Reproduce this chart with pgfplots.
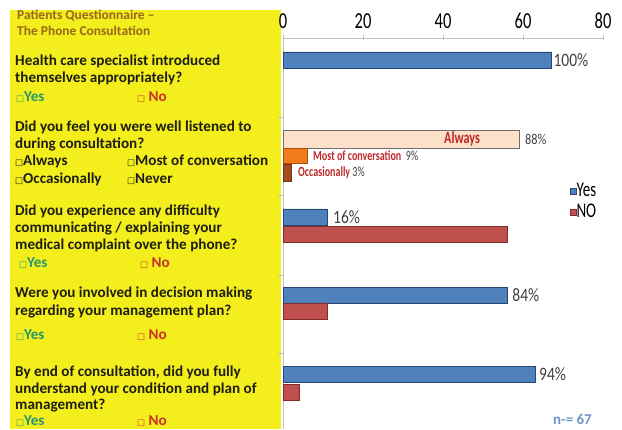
\documentclass[border=0pt]{standalone}
\usepackage{pgfplots}
\pgfplotsset{compat=1.18}
\usepackage{fontspec}
\setmainfont{Carlito}
\newfontfamily\narrow[FakeStretch=0.72]{Carlito}
\newfontfamily\semi[FakeStretch=0.82]{Carlito}
\newfontfamily\dejavu{DejaVu Sans}
\definecolor{ylw}{RGB}{243,238,28}
\definecolor{ttl}{RGB}{150,105,30}
\definecolor{qtxt}{RGB}{30,30,20}
\definecolor{yesc}{RGB}{40,150,110}
\definecolor{noc}{RGB}{200,50,40}
\definecolor{barblue}{RGB}{79,129,189}
\definecolor{barblueD}{RGB}{40,70,115}
\definecolor{barred}{RGB}{192,80,77}
\definecolor{barredD}{RGB}{130,45,42}
\definecolor{alw}{RGB}{252,224,200}
\definecolor{alwD}{RGB}{110,110,110}
\definecolor{most}{RGB}{240,125,25}
\definecolor{mostD}{RGB}{170,80,10}
\definecolor{occ}{RGB}{165,75,30}
\definecolor{lblc}{RGB}{64,64,64}
\definecolor{lblred}{RGB}{190,40,40}
\definecolor{nblue}{RGB}{110,150,200}
\newcommand\bx{{\dejavu\fontsize{8.5}{8.5}\selectfont\char"25A1}}
\begin{document}
\begin{tikzpicture}[x=1bp,y=1bp]
\useasboundingbox (0,0) rectangle (622,429);
\fill[ylw] (10,0) rectangle (281,419);
\begin{scope}[every node/.style={anchor=west,inner sep=0pt}]
\node[font=\bfseries\fontsize{13.5}{13.5}\selectfont,text=ttl] at (17,413) {Patients Questionnaire --};
\node[font=\bfseries\fontsize{13.5}{13.5}\selectfont,text=ttl] at (17,398) {The Phone Consultation};
\begin{scope}[every node/.append style={font=\bfseries\fontsize{15.2}{15.2}\selectfont,text=qtxt}]
\node at (15,368) {Health care specialist introduced};
\node at (15,351) {themselves appropriately?};
\node[text=yesc] at (16,332) {\bx Yes};
\node[text=noc] at (137,332) {\bx\ No};
\node at (15,302) {Did you feel you were well listened to};
\node at (15,285) {during consultation?};
\node at (15,268) {\bx Always};
\node at (127,268) {\bx Most of conversation};
\node at (15,250) {\bx Occasionally};
\node at (127,250) {\bx Never};
\node at (15,218) {Did you experience any difficulty};
\node at (15,201) {communicating / explaining your};
\node at (15,184) {medical complaint over the phone?};
\node[text=yesc] at (19,166) {\bx Yes};
\node[text=noc] at (140,166) {\bx\ No};
\node at (15,136) {Were you involved in decision making};
\node at (15,118) {regarding your management plan?};
\node[text=yesc] at (16,94) {\bx Yes};
\node[text=noc] at (137,94) {\bx\ No};
\node at (15,57) {By end of consultation, did you fully};
\node at (15,40) {understand your condition and plan of};
\node at (15,23) {management?};
\node[text=yesc] at (16,8) {\bx Yes};
\node[text=noc] at (137,8) {\bx\ No};
\end{scope}
\node[font=\bfseries\fontsize{15}{15}\selectfont,text=nblue] at (553,10) {n-= 67};
\end{scope}
\begin{axis}[
  at={(283bp,0bp)}, anchor=south west, scale only axis,
  width=320bp, height=391bp,
  xmin=0, xmax=80, ymin=0, ymax=391,
  axis x line*=top, axis y line*=left,
  axis line style={draw=gray!50,-},
  xtick={0,20,40,60,80},
  ytick={76,154,234,312}, yticklabels={},
  tick style={draw=gray!50},
  tick align=center, major tick length=5bp,
  /pgf/number format/assume math mode=true,
  xticklabel style={font=\narrow\fontsize{23}{23}\selectfont,text=black,yshift=3bp},
  xbar, bar shift=0pt,
  clip=false,
  legend style={at={(rel axis cs:0.895,0.63)},anchor=north west,draw=none,fill=none,
    font=\narrow\fontsize{21}{18}\selectfont, row sep=5bp, inner sep=0pt,
    nodes={inner sep=0.5bp}},
  legend cell align=left,
  legend image code/.code={\fill[#1] (0bp,-3bp) rectangle (6bp,3bp);},
]
\addplot[fill=barblue,draw=barblueD,bar width=16bp] coordinates {(67,369) (11,212) (56,134) (63,55)};
\addlegendentry{Yes}
\addplot[fill=barred,draw=barredD,bar width=16bp] coordinates {(56,195) (11,118) (4,37)};
\addlegendentry{NO}
\addplot[fill=alw,draw=alwD,bar width=18bp,forget plot] coordinates {(59,290)};
\addplot[fill=most,draw=mostD,bar width=15bp,forget plot] coordinates {(6,273)};
\addplot[fill=occ,draw=occ!70!black,bar width=17bp,forget plot] coordinates {(2,256)};
\begin{scope}[every node/.style={anchor=west,inner sep=0pt,text=lblc,font=\semi\fontsize{19}{19}\selectfont}]
\node at (axis cs:67.6,369) {100\%};
\node[font=\semi\fontsize{15}{15}\selectfont] at (axis cs:60.5,290) {88\%};
\node[anchor=center,text=lblred,font=\narrow\bfseries\fontsize{17}{17}\selectfont] at (axis cs:44.75,290) {Always};
\node[font=\narrow\fontsize{14}{14}\selectfont] at (axis cs:7.5,273) {\textcolor{lblred}{\bfseries Most of conversation}\ \ 9\%};
\node[font=\narrow\fontsize{14}{14}\selectfont] at (axis cs:3.75,256) {\textcolor{lblred}{\bfseries Occasionally} 3\%};
\node at (axis cs:12.5,212) {16\%};
\node at (axis cs:57.3,134) {84\%};
\node at (axis cs:64,55) {94\%};
\end{scope}
\end{axis}
\end{tikzpicture}
\end{document}
